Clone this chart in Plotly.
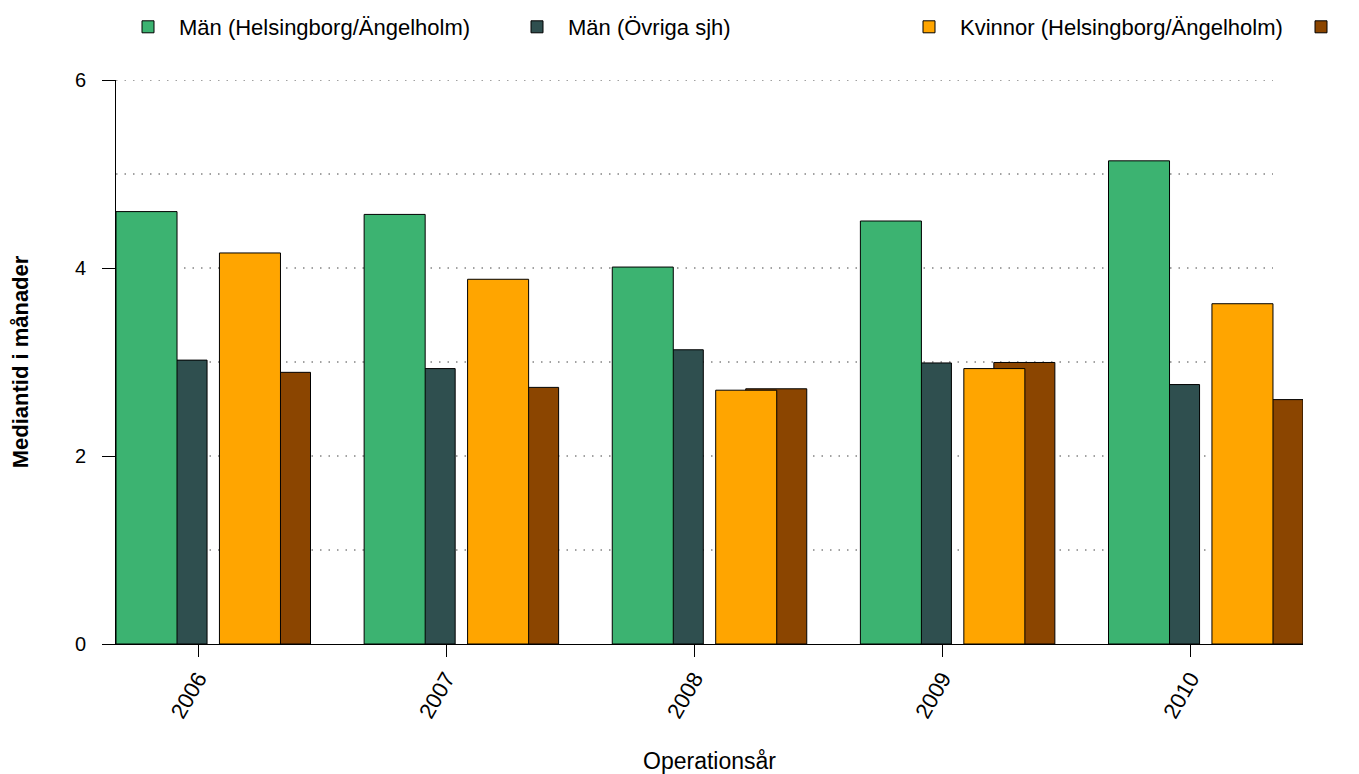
import plotly.graph_objects as go

# ---- data ----
years = ["2006", "2007", "2008", "2009", "2010"]
man_hbg = [4.60, 4.57, 4.01, 4.50, 5.14]   # Män (Helsingborg/Ängelholm)
man_ovr = [3.02, 2.93, 3.13, 2.99, 2.76]   # Män (Övriga sjh)
kv_hbg = [4.16, 3.88, 2.70, 2.93, 3.62]    # Kvinnor (Helsingborg/Ängelholm)
kv_ovr = [2.89, 2.73, 2.715, 2.995, 2.60]  # Kvinnor (Övriga sjh)

names = ["Män (Helsingborg/Ängelholm)", "Män (Övriga sjh)",
         "Kvinnor (Helsingborg/Ängelholm)", "Kvinnor (Övriga sjh)"]
y_ticks = [0, 2, 4, 6]
grid_vals = [1, 2, 3, 4, 5, 6]

# ---- style ----
FONT = "Liberation Sans, Arial, Helvetica, sans-serif"
colors = ["#3CB371", "#2F4F4F", "#FFA500", "#8B4500"]
UNIT = 248.0                 # px per category
BAR_W = 61 / UNIT
offs = [-82 / UNIT, -52 / UNIT, 21.4 / UNIT, 51.4 / UNIT]
PAGE_OFF = 8                 # default body margin of the html page
W, H = 1359 - PAGE_OFF, 774 - PAGE_OFF
ML, MR, MT, MB = 116 - PAGE_OFF, 56, 80 - PAGE_OFF, 130
plot_w = W - ML - MR
plot_h = H - MT - MB
x_range = [-82 / UNIT, 4 + 112.4 / UNIT]

series = [man_hbg, man_ovr, kv_hbg, kv_ovr]
legend_ids = ["legend", "legend2", "legend3", "legend4"]
# draw order: partially hidden bars first
order = [1, 3, 0, 2]

fig = go.Figure()
for k in order:
    fig.add_trace(go.Bar(
        x=years, y=series[k], name=names[k],
        width=BAR_W, offset=offs[k],
        marker=dict(color=colors[k], line=dict(color="black", width=1)),
        legend=legend_ids[k],
    ))

# dotted grid lines (end short of the right edge, like the original)
grid_end = (1273 - 116) / plot_w
for g in grid_vals:
    fig.add_shape(type="line", xref="paper", yref="y", x0=0, x1=grid_end,
                  y0=g, y1=g, layer="below",
                  line=dict(color="#444444", width=1, dash="1.5px,7px"))

legend_text_x = [179, 568, 960, 1352]
ITEMW = 52
leg_y = 1 + (80 - 27) / plot_h
legend_layouts = {}
for k, lid in enumerate(legend_ids):
    left_px = legend_text_x[k] - (ITEMW + 10)
    legend_layouts[lid] = dict(
        x=(left_px - 116) / plot_w, y=leg_y, xanchor="left", yanchor="middle",
        orientation="v", itemwidth=ITEMW, bgcolor="rgba(0,0,0,0)",
        font=dict(family=FONT, size=22, color="black"),
    )

fig.update_layout(
    width=W, height=H,
    barmode="overlay",
    paper_bgcolor="white", plot_bgcolor="white",
    font=dict(family=FONT, size=20, color="black"),
    margin=dict(l=ML, r=MR, t=MT, b=MB, autoexpand=False),
    showlegend=True,
    xaxis=dict(
        type="category", range=x_range,
        showline=True, linecolor="black", linewidth=1,
        ticks="outside", ticklen=12, tickcolor="black", tickwidth=1,
        tickangle=-60, tickfont=dict(size=22),
        showgrid=False, zeroline=False,
        title=dict(text="Operationsår", font=dict(size=23), standoff=34),
    ),
    yaxis=dict(
        range=[0, 6], tickvals=y_ticks,
        showline=True, linecolor="black", linewidth=1,
        ticks="outside", ticklen=13, tickcolor="black", tickwidth=1,
        tickfont=dict(size=20), ticklabelstandoff=12,
        showgrid=False, zeroline=False,
        title=dict(text="<b>Mediantid i månader</b>", font=dict(size=22),
                   standoff=40),
    ),
    **legend_layouts,
)

fig.write_html("out.html")
